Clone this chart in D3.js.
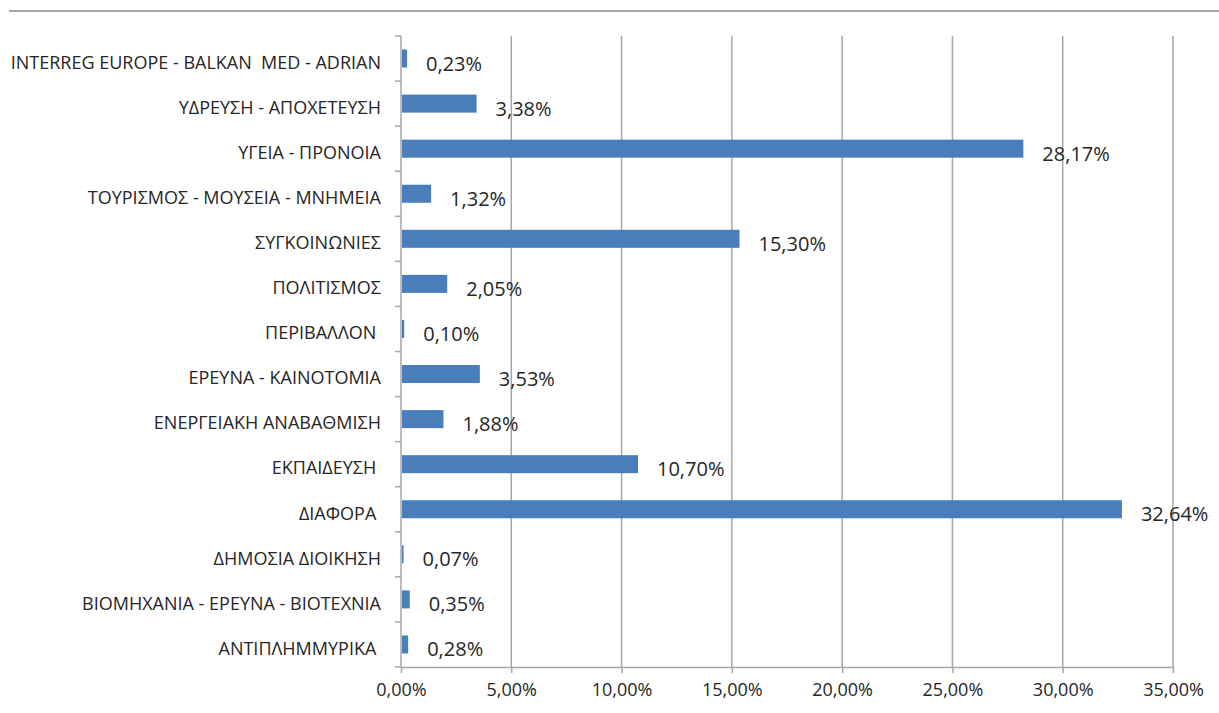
<!DOCTYPE html>
<html>
<head>
<meta charset="utf-8">
<script src="https://cdn.jsdelivr.net/npm/d3@7"></script>
<style>
  body { margin: 0; background: #fff; }
  text { font-family: "Open Sans", sans-serif; fill: #262626; white-space: pre; }
</style>
</head>
<body>
<div id="chart"></div>
<script>
var width = 1219,
    height = 713;

// categories top to bottom
var categories = [
  "INTERREG EUROPE - BALKAN  MED - ADRIAN",
  "ΥΔΡΕΥΣΗ - ΑΠΟΧΕΤΕΥΣΗ",
  "ΥΓΕΙΑ - ΠΡΟΝΟΙΑ",
  "ΤΟΥΡΙΣΜΟΣ - ΜΟΥΣΕΙΑ - ΜΝΗΜΕΙΑ",
  "ΣΥΓΚΟΙΝΩΝΙΕΣ",
  "ΠΟΛΙΤΙΣΜΟΣ",
  "ΠΕΡΙΒΑΛΛΟΝ ",
  "ΕΡΕΥΝΑ - ΚΑΙΝΟΤΟΜΙΑ",
  "ΕΝΕΡΓΕΙΑΚΗ ΑΝΑΒΑΘΜΙΣΗ",
  "ΕΚΠΑΙΔΕΥΣΗ ",
  "ΔΙΑΦΟΡΑ ",
  "ΔΗΜΟΣΙΑ ΔΙΟΙΚΗΣΗ",
  "ΒΙΟΜΗΧΑΝΙΑ - ΕΡΕΥΝΑ - ΒΙΟΤΕΧΝΙΑ",
  "ΑΝΤΙΠΛΗΜΜΥΡΙΚΑ "
];
var values = [0.23, 3.38, 28.17, 1.32, 15.30, 2.05, 0.10, 3.53, 1.88, 10.70, 32.64, 0.07, 0.35, 0.28];
var ticks = [0, 5, 10, 15, 20, 25, 30, 35];

var fmt = function(v) { return v.toFixed(2).replace(".", ",") + "%"; };

var svg = d3.select("#chart").append("svg")
    .attr("width", width)
    .attr("height", height);

// top border line
svg.append("line")
    .attr("x1", 9).attr("x2", width)
    .attr("y1", 11).attr("y2", 11)
    .style("stroke", "#a6a6a6")
    .style("stroke-width", 2);

var x = d3.scaleLinear().domain([0, 35]).range([401, 1173]);
var y = d3.scaleBand().domain(categories).range([36, 667]).paddingInner(0.6).paddingOuter(0.3);

// gridlines
svg.append("g").selectAll("line")
    .data(ticks.slice(1))
    .enter().append("line")
    .attr("x1", function(d) { return x(d); })
    .attr("x2", function(d) { return x(d); })
    .attr("y1", 36).attr("y2", 667)
    .style("stroke", "#a6a6a6")
    .style("stroke-width", 1.5);

// x axis
var xAxis = svg.append("g")
    .attr("transform", "translate(0,667)")
    .call(d3.axisBottom(x).tickValues(ticks).tickFormat(function(d) { return fmt(d); }).tickSizeInner(6).tickSizeOuter(0).tickPadding(10));
xAxis.select(".domain").style("stroke", "#a6a6a6").style("stroke-width", 1.5);
xAxis.selectAll(".tick line").style("stroke", "#a6a6a6").style("stroke-width", 1.5);
xAxis.selectAll("text").style("font-size", "18px").style("font-family", "\"Open Sans\", sans-serif").style("fill", "#262626");

// y axis
var step = (667 - 36) / categories.length;
var yAxis = svg.append("g").attr("transform", "translate(401,0)");
yAxis.append("line")
    .attr("x1", 0).attr("x2", 0).attr("y1", 36).attr("y2", 667)
    .style("stroke", "#a6a6a6").style("stroke-width", 1.5);
yAxis.selectAll(".ytick")
    .data(d3.range(categories.length + 1))
    .enter().append("line")
    .attr("x1", -6).attr("x2", 0)
    .attr("y1", function(i) { return 36 + i * step; })
    .attr("y2", function(i) { return 36 + i * step; })
    .style("stroke", "#a6a6a6").style("stroke-width", 1.5);

yAxis.selectAll(".ylab")
    .data(categories)
    .enter().append("text")
    .attr("x", -20)
    .attr("y", function(d) { return y(d) + y.bandwidth() / 2 + 4; })
    .attr("dy", "0.35em")
    .attr("text-anchor", "end")
    .style("font-size", "18px")
    .text(function(d) { return d; });

// bars
svg.append("g").selectAll("rect")
    .data(values)
    .enter().append("rect")
    .attr("x", x(0) + 1)
    .attr("y", function(d, i) { return y(categories[i]); })
    .attr("width", function(d) { return x(d) - x(0); })
    .attr("height", y.bandwidth())
    .style("fill", "#4a7ebb");

// value labels
svg.append("g").selectAll("text")
    .data(values)
    .enter().append("text")
    .attr("x", function(d) { return x(d) + 20; })
    .attr("y", function(d, i) { return y(categories[i]) + y.bandwidth() / 2 + 5; })
    .attr("dy", "0.35em")
    .style("font-size", "20px")
    .text(function(d) { return fmt(d); });
</script>
</body>
</html>
